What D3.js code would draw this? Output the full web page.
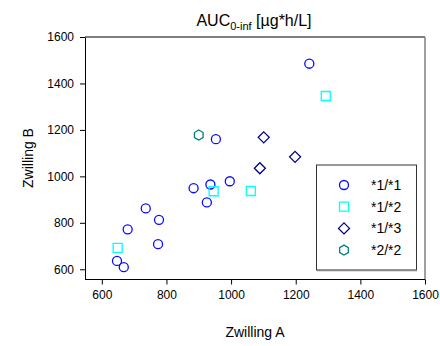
<!DOCTYPE html>
<html><head><meta charset="utf-8">
<script src="https://cdn.jsdelivr.net/npm/d3@7"></script>
<style>body{margin:0;background:#fff;} svg{display:block;font-family:"Liberation Sans",Arial,sans-serif;}</style>
</head><body>
<svg id="c" width="440" height="346"></svg>
<script>
const groups = ["*1/*1", "*1/*2", "*1/*3", "*2/*2"];
const g11A = [1242, 953, 996, 884, 936, 925, 736, 777, 680, 774, 647, 668];
const g11B = [1485, 1160, 979, 949, 965, 888, 862, 813, 772, 708, 636, 609];
const g12A = [1293, 946, 1061, 649];
const g12B = [1346, 936, 937, 692];
const g13A = [1101, 1089, 1198];
const g13B = [1168, 1035, 1084];
const g22A = [900];
const g22B = [1178];
const ticks = [600, 800, 1000, 1200, 1400, 1600];

const series = [
  {name: groups[0], xs: g11A, ys: g11B, shape: "circle", color: "#0a0aff"},
  {name: groups[1], xs: g12A, ys: g12B, shape: "square", color: "#00ffff"},
  {name: groups[2], xs: g13A, ys: g13B, shape: "diamond", color: "#000080"},
  {name: groups[3], xs: g22A, ys: g22B, shape: "hexagon", color: "#008080"}
];

const svg = d3.select("#c");
const L = 85, R = 425, T = 37, B = 279.5;
const x = d3.scaleLinear().domain([548, 1600]).range([L, R]);
const y = d3.scaleLinear().domain([556, 1600]).range([B, T]);

function shapePath(shape) {
  if (shape === "circle") return d3.symbol(d3.symbolCircle, 64)();
  if (shape === "square") return "M-4.5,-4.5H4.5V4.5H-4.5Z";
  if (shape === "diamond") return "M0,-5.5L5.5,0L0,5.5L-5.5,0Z";
  const r = 5;
  return d3.range(6).map(i => {
    const a = Math.PI / 3 * i - Math.PI / 2;
    return (i ? "L" : "M") + (r * Math.cos(a)).toFixed(2) + "," + (r * Math.sin(a)).toFixed(2);
  }).join("") + "Z";
}

svg.append("line").attr("x1", L).attr("x2", R).attr("y1", T).attr("y2", T).attr("stroke", "#000").attr("stroke-width", 1);
svg.append("line").attr("x1", R).attr("x2", R).attr("y1", T).attr("y2", B).attr("stroke", "#808080").attr("stroke-width", 1.5);

const fmt = d3.format("d");
const xAxis = svg.append("g").attr("transform", `translate(0,${B})`)
  .call(d3.axisBottom(x).tickValues(ticks).tickFormat(fmt).tickSize(5).tickSizeOuter(0).tickPadding(6));
const yAxis = svg.append("g").attr("transform", `translate(${L},0)`)
  .call(d3.axisLeft(y).tickValues(ticks).tickFormat(fmt).tickSize(5).tickSizeOuter(0).tickPadding(6));
[xAxis, yAxis].forEach(a => {
  a.selectAll("text").attr("font-size", "12px").attr("font-family", "Liberation Sans, Arial, sans-serif").attr("fill", "#000");
  a.selectAll("line,path").attr("stroke", "#000");
});
xAxis.select(".domain").attr("d", `M${L},0H${R}`);

series.forEach(s => {
  svg.append("g").selectAll("path").data(s.xs.map((v, i) => [v, s.ys[i]])).join("path")
    .attr("d", shapePath(s.shape))
    .attr("transform", d => `translate(${x(d[0])},${y(d[1])})`)
    .attr("fill", "none").attr("stroke", s.color).attr("stroke-width", 1.3);
});

const title = svg.append("text").attr("x", 254).attr("y", 26).attr("text-anchor", "middle")
  .attr("font-size", "16px").attr("fill", "#000");
title.append("tspan").text("AUC");
title.append("tspan").attr("font-size", "11px").attr("dy", 4).text("0-inf");
title.append("tspan").attr("dy", -4).text(" [µg*h/L]");

svg.append("text").attr("x", 255).attr("y", 337).attr("text-anchor", "middle").attr("font-size", "14px").text("Zwilling A");
svg.append("text").attr("transform", "translate(33,158) rotate(-90)").attr("text-anchor", "middle").attr("font-size", "14px").text("Zwilling B");

const lg = svg.append("g");
lg.append("rect").attr("x", 316.5).attr("y", 165).attr("width", 100).attr("height", 105)
  .attr("fill", "#fff").attr("stroke", "#333").attr("stroke-width", 1);
lg.append("line").attr("x1", 317).attr("x2", 417).attr("y1", 270.5).attr("y2", 270.5).attr("stroke", "#888").attr("stroke-width", 1.5);
series.forEach((s, i) => {
  const yy = 185 + i * 21.7;
  lg.append("path").attr("d", shapePath(s.shape)).attr("transform", `translate(344,${yy})`)
    .attr("fill", "none").attr("stroke", s.color).attr("stroke-width", 1.3);
  lg.append("text").attr("x", 371).attr("y", yy + 5).attr("font-size", "14px").text(s.name);
});
</script>
</body></html>
